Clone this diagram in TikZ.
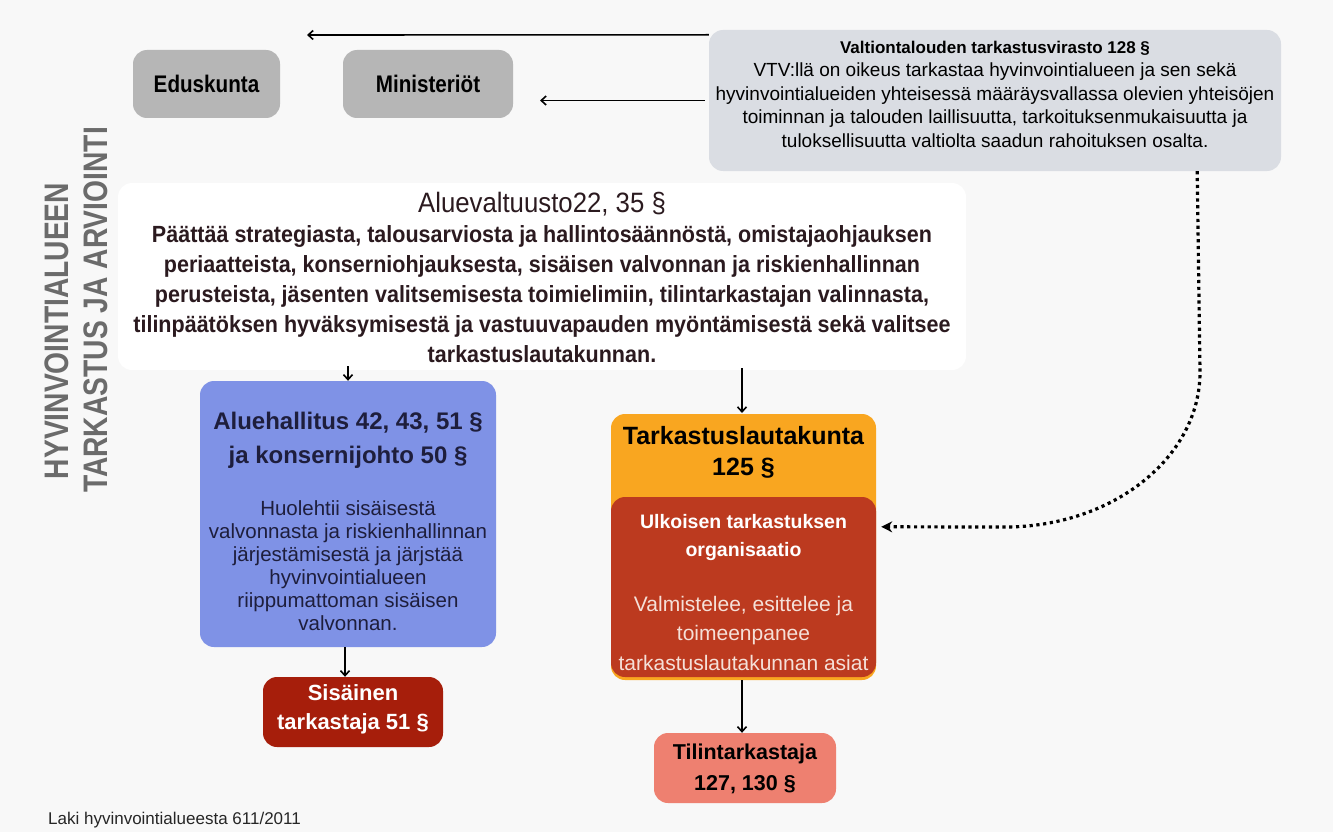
\documentclass[tikz,border=0pt]{standalone}
\usepackage{fontspec}
\setmainfont{Liberation Sans}
\newfontfamily\cond[FakeStretch=0.83]{Liberation Sans}
\newfontfamily\condb[FakeStretch=0.86]{Liberation Sans}
\newfontfamily\condc[FakeStretch=0.92]{Liberation Sans}
\usetikzlibrary{arrows.meta}
\definecolor{bgc}{HTML}{F8F8F8}
\definecolor{grayb}{HTML}{B6B6B6}
\definecolor{vtvc}{HTML}{DADDE3}
\definecolor{ahc}{HTML}{7F92E6}
\definecolor{sisc}{HTML}{A61E0B}
\definecolor{tlkc}{HTML}{F9A620}
\definecolor{ulkc}{HTML}{BC3A1F}
\definecolor{tilc}{HTML}{EE8070}
\definecolor{darkt}{HTML}{2B1A1F}
\definecolor{navyt}{HTML}{1E1E3C}
\definecolor{sidec}{HTML}{6B6B6B}
\definecolor{palet}{HTML}{F5E0D8}
\tikzset{
  box/.style={rounded corners=14pt, inner sep=0pt, anchor=center},
  txt/.style={align=center, inner sep=0pt, anchor=center},
  arr/.style={-{Straight Barb[length=5pt,width=9pt]}, line width=1.6pt},
  dots/.style={line width=3.2pt, dash pattern=on 3.2pt off 3.6pt, -{Stealth[length=11pt,width=11pt]}}
}
\begin{document}
\begin{tikzpicture}[x=1pt,y=-1pt]
\useasboundingbox[fill=bgc] (0,0) rectangle (1333,832);

% top boxes
\node[box, fill=grayb, minimum width=147pt, minimum height=68pt, font=\condb\bfseries\fontsize{24}{26}\selectfont] (edus) at (206.5,84) {Eduskunta};
\node[box, fill=grayb, minimum width=170pt, minimum height=68pt, font=\condb\bfseries\fontsize{24}{26}\selectfont] (mini) at (428,84) {Ministeriöt};

\node[box, fill=vtvc, minimum width=572pt, minimum height=141pt] (vtv) at (995,100.5) {};
\node[txt, font=\fontsize{19}{23.5}\selectfont, text=black] (vtvt) at (995,94) {{\bfseries\fontsize{17}{23.5}\selectfont Valtiontalouden tarkastusvirasto 128 §}\\
VTV:llä on oikeus tarkastaa hyvinvointialueen ja sen sekä\\
hyvinvointialueiden yhteisessä määräysvallassa olevien yhteisöjen\\
toiminnan ja talouden laillisuutta, tarkoituksenmukaisuutta ja\\
tuloksellisuutta valtiolta saadun rahoituksen osalta.};

\coordinate (a1) at (307,35);
\coordinate (a2) at (540,100.5);
\draw[arr] ([yshift=-5pt]vtv.north west) -- (a1);
\draw[arr] ([xshift=-4pt]vtv.west) -- (a2);

% side title
\node[txt, rotate=90, font=\cond\bfseries\fontsize{34}{36}\selectfont, text=sidec] (side1) at (57,331) {HYVINVOINTIALUEEN};
\node[txt, rotate=90, font=\cond\bfseries\fontsize{34}{36}\selectfont, text=sidec] (side2) at (96,310) {TARKASTUS JA ARVIOINTI};

% Aluevaltuusto
\node[box, fill=white, minimum width=848pt, minimum height=187pt] (alue) at (542,276.5) {};
\node[txt, font=\condc\bfseries\fontsize{23.4}{30}\selectfont, text=darkt] (aluet) at (542,277) {{\mdseries\fontsize{28}{30}\selectfont Aluevaltuusto22, 35 §}\\
Päättää strategiasta, talousarviosta ja hallintosäännöstä, omistajaohjauksen\\
periaatteista, konserniohjauksesta, sisäisen valvonnan ja riskienhallinnan\\
perusteista, jäsenten valitsemisesta toimielimiin, tilintarkastajan valinnasta,\\
tilinpäätöksen hyväksymisestä ja vastuuvapauden myöntämisestä sekä valitsee\\
tarkastuslautakunnan.};

% Aluehallitus
\node[box, fill=ahc, minimum width=296pt, minimum height=266pt] (ah) at (348,514) {};
\node[txt, font=\bfseries\fontsize{24}{34}\selectfont, text=navyt] (aht) at (348,440) {Aluehallitus 42, 43, 51 §\\ja konsernijohto 50 §};
\node[txt, font=\fontsize{20.5}{23}\selectfont, text=navyt] (ahb) at (348,566) {Huolehtii sisäisestä\\valvonnasta ja riskienhallinnan\\järjestämisestä ja järjstää\\hyvinvointialueen\\riippumattoman sisäisen\\valvonnan.};

% Sisäinen
\node[box, fill=sisc, minimum width=180pt, minimum height=70pt] (sis) at (353,712) {};
\node[txt, font=\bfseries\fontsize{22}{29}\selectfont, text=white] (sist) at (353,709) {Sisäinen\\tarkastaja 51 §};

% Tarkastuslautakunta
\node[box, fill=tlkc, minimum width=265pt, minimum height=266pt] (tlk) at (743.5,547) {};
\node[txt, font=\bfseries\fontsize{25}{31}\selectfont, text=black] (tlkt) at (743.5,452) {Tarkastuslautakunta\\125 §};
\node[box, fill=ulkc, minimum width=265pt, minimum height=180pt] (ulk) at (743.5,587) {};
\node[txt, font=\bfseries\fontsize{19.5}{28}\selectfont, text=white] (ulkt) at (743.5,537) {Ulkoisen tarkastuksen\\organisaatio};
\node[txt, font=\fontsize{21}{29.5}\selectfont, text=palet] (ulkb) at (743.5,633) {Valmistelee, esittelee ja\\toimeenpanee\\tarkastuslautakunnan asiat};

% Tilintarkastaja
\node[box, fill=tilc, minimum width=182pt, minimum height=70pt] (til) at (745,768) {};
\node[txt, font=\bfseries\fontsize{21.5}{31}\selectfont, text=black] (tilt) at (745,769) {Tilintarkastaja\\127, 130 §};

% arrows
\draw[arr] ([yshift=4pt]alue.south -| ah.north) -- (ah.north);
\draw[arr] ([yshift=2pt]alue.south -| 742,0) -- (742,413);
\draw[arr] (ah.south -| 345,0) -- (sis.north -| 345,0);
\draw[arr] (tlk.south -| 742,0) -- (til.north -| 742,0);

% dotted connector
\coordinate (d1) at (1200,372);
\coordinate (d2) at (1005,527);
\draw[dots] ([xshift=-84pt]vtv.south east) -- (d1) .. controls (1200,457.6) and (1112.6,527) .. (d2) -- ([xshift=5pt,yshift=-30pt]ulk.north east);

% footer
\node[txt, anchor=west, font=\fontsize{17}{18}\selectfont, text=black!85] (laki) at (48,820) {Laki hyvinvointialueesta 611/2011};
\end{tikzpicture}
\end{document}
